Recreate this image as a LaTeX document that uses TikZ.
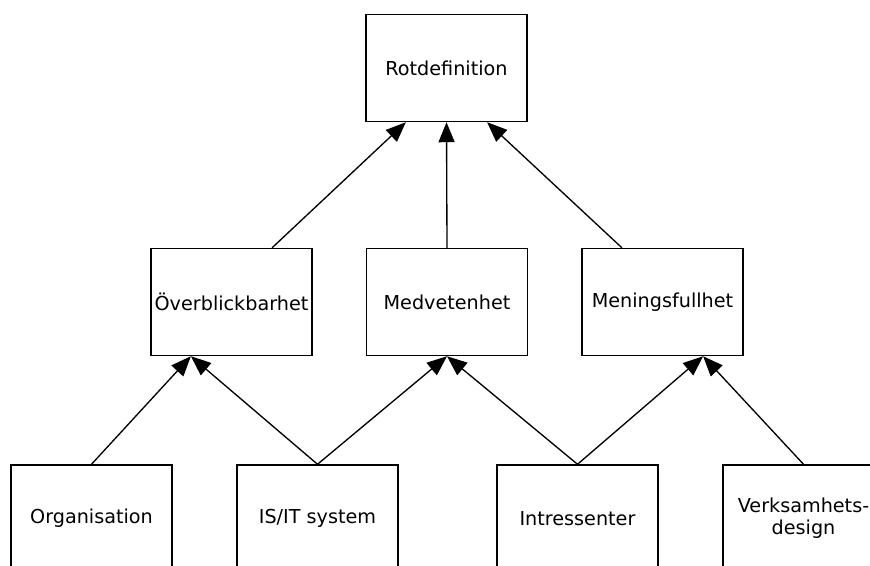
\documentclass[tikz,border=0pt]{standalone}
\usepackage{fontspec}
\setmainfont{DejaVu Sans}
\usetikzlibrary{arrows.meta,calc}

\begin{document}
\begin{tikzpicture}[x=0.75pt,y=-0.75pt,
  box/.style={draw=black, line width=1.1pt, fill=white, inner sep=0pt,
    minimum width=120.75pt, minimum height=80.25pt, align=center,
    font=\fontsize{14.4}{16.5}\selectfont},
  link/.style={draw=black, line width=1pt,
    -{Triangle[length=15pt,width=12pt]}},
  ]
  \useasboundingbox (0,0) rectangle (870,566);

  % top level
  \node[box] (root) at (446.5,68) {Rotdefinition};

  % middle level
  \node[box] (ov) at (231.5,302) {Överblickbarhet};
  \node[box] (me) at (447,302) {Medvetenhet};
  \node[box] (mf) at (662.5,302) {Meningsfullhet};

  % bottom level
  \node[box] (org) at (91.5,518.5) {Organisation};
  \node[box] (is) at (317.5,518.5) {IS/IT system};
  \node[box] (in) at (577.5,518.5) {Intressenter};
  \node[box] (vd) at (803.5,518.5) {Verksamhets-\\design};

  % connectors into the root
  \draw[link] ($(ov.north west)!0.75!(ov.north east)$) -- ($(root.south west)!0.25!(root.south east)$);
  \draw[link] (me.north) -- (root.south);
  \draw[link] ($(mf.north west)!0.25!(mf.north east)$) -- ($(root.south west)!0.75!(root.south east)$);

  % connectors into the middle level
  \draw[link] (org.north) -- ($(ov.south west)!0.25!(ov.south east)$);
  \draw[link] (is.north) -- ($(ov.south west)!0.25!(ov.south east)$);
  \draw[link] (is.north) -- (me.south);
  \draw[link] (in.north) -- (me.south);
  \draw[link] (in.north) -- ($(mf.south west)!0.75!(mf.south east)$);
  \draw[link] (vd.north) -- ($(mf.south west)!0.75!(mf.south east)$);
\end{tikzpicture}
\end{document}
